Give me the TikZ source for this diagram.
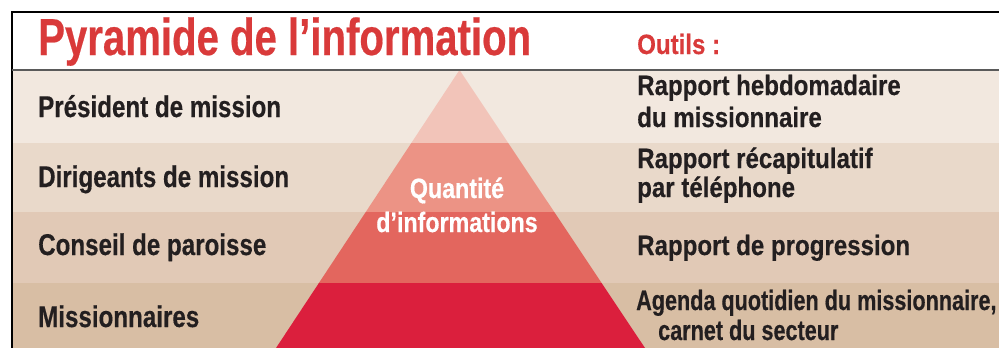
\documentclass[tikz,border=0pt]{standalone}
\usepackage{fontspec}
\setmainfont{Liberation Sans}
\newfontfamily\condA[FakeStretch=0.772,FakeBold=0.4]{Liberation Sans}
\newfontfamily\condB[FakeStretch=0.805,FakeBold=0.4]{Liberation Sans}
\newfontfamily\condC[FakeStretch=0.86,FakeBold=0.4]{Liberation Sans}
\newfontfamily\condD[FakeStretch=0.83,FakeBold=0.4]{Liberation Sans}
\newfontfamily\condE[FakeStretch=0.772,FakeBold=0.4]{Liberation Sans}
\definecolor{titlered}{HTML}{D93A3A}
\definecolor{ink}{HTML}{231F20}
\definecolor{bandA}{HTML}{F2E8DF}
\definecolor{bandB}{HTML}{E9D9CA}
\definecolor{bandC}{HTML}{E1C9B6}
\definecolor{bandD}{HTML}{D8BEA4}
\definecolor{pyrA}{HTML}{F2C4B9}
\definecolor{pyrB}{HTML}{EC9385}
\definecolor{pyrC}{HTML}{E3665E}
\definecolor{pyrD}{HTML}{DB1F3D}
\definecolor{sepgray}{HTML}{5A5A5A}
\begin{document}
\begin{tikzpicture}[x=1pt,y=-1pt,
  leftlbl/.style={anchor=base west, inner sep=0pt, text=ink, font=\condB\bfseries\fontsize{30}{32}\selectfont},
  rightlbl/.style={anchor=base west, inner sep=0pt, text=ink, font=\condC\bfseries\fontsize{28}{30}\selectfont},
  rightnarrow/.style={anchor=base west, inner sep=0pt, text=ink, font=\condE\bfseries\fontsize{28}{30}\selectfont},
  pyrlbl/.style={anchor=base, inner sep=0pt, text=white, font=\condD\bfseries\fontsize{28}{30}\selectfont},
  titlelbl/.style={anchor=base west, inner sep=0pt, text=titlered, font=\condA\bfseries\fontsize{52}{56}\selectfont},
  outilslbl/.style={anchor=base west, inner sep=0pt, text=titlered, font=\condC\bfseries\fontsize{28}{30}\selectfont}]
\useasboundingbox (0,0) rectangle (999,348);
\fill[white] (0,0) rectangle (999,348);
% bands
\fill[bandA] (12,70) rectangle (999,143);
\fill[bandB] (12,143) rectangle (999,212);
\fill[bandC] (12,212) rectangle (999,283);
\fill[bandD] (12,283) rectangle (999,348);
% pyramid
\coordinate (apex) at (459.5,70);
\coordinate (bl) at (276,348);
\coordinate (br) at (645,348);
\begin{scope}
\clip (apex) -- (bl) -- (br) -- cycle;
\fill[pyrA] (270,70) rectangle (650,143);
\fill[pyrB] (270,143) rectangle (650,212);
\fill[pyrC] (270,212) rectangle (650,283);
\fill[pyrD] (270,283) rectangle (650,348);
\end{scope}
% frame
\draw[line width=1.2pt, black] (999,12) -- (12,12) -- (12,348);
\draw[line width=1.2pt, sepgray] (12,70) -- (999,70);
% title
\node[titlelbl] (title) at (38,55) {Pyramide de l’information};
\node[outilslbl] (outils) at (637,54) {Outils :};
% left labels
\node[leftlbl] (l1) at (38,117) {Président de mission};
\node[leftlbl] (l2) at (38,187) {Dirigeants de mission};
\node[leftlbl] (l3) at (38,255) {Conseil de paroisse};
\node[leftlbl] (l4) at (38,327) {Missionnaires};
% right labels
\node[rightlbl] (r1a) at (637,95) {Rapport hebdomadaire};
\node[rightlbl] (r1b) at (637,127) {du missionnaire};
\node[rightlbl] (r2a) at (637,168) {Rapport récapitulatif};
\node[rightlbl] (r2b) at (637,197) {par téléphone};
\node[rightlbl] (r3) at (637,255) {Rapport de progression};
\node[rightnarrow] (r4a) at (636,310) {Agenda quotidien du missionnaire,};
\node[rightnarrow] (r4b) at (658,340) {carnet du secteur};
% pyramid text
\node[pyrlbl] (q1) at (457,198) {Quantité};
\node[pyrlbl] (q2) at (457,232) {d’informations};
\end{tikzpicture}
\end{document}
